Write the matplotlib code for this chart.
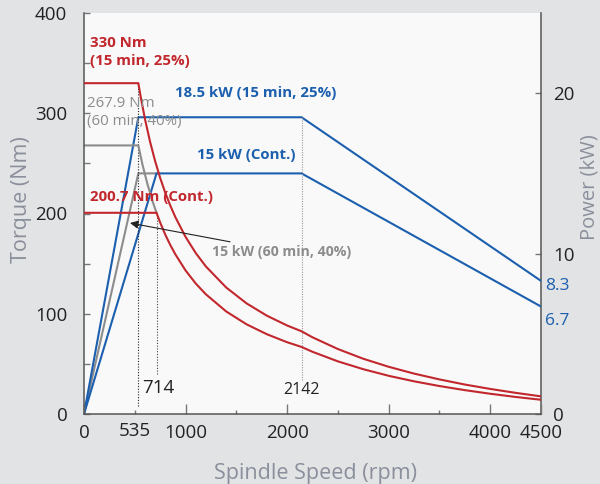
import matplotlib
matplotlib.use("Agg")
import matplotlib.pyplot as plt
from matplotlib.ticker import FixedLocator, FixedFormatter

plt.rcParams['font.family'] = ['Open Sans', 'DejaVu Sans']

# ---------------- data ----------------
# Power curves (kW)
speed_pmax = [0, 535, 2142, 4500]
power_pmax = [0, 18.5, 18.5, 8.3]          # 18.5 kW (15 min, 25%)
speed_pcont = [0, 714, 2142, 4500]
power_pcont = [0, 15, 15, 6.7]             # 15 kW (Cont.)
speed_ps6 = [0, 535, 714]
power_ps6 = [0, 15, 15]                    # 15 kW (60 min, 40%)

# Torque curves (Nm)
speed_tmax = [0, 535, 560, 600, 650, 700, 750, 800, 850, 900, 1000, 1100, 1200,
              1400, 1600, 1800, 2000, 2142, 2250, 2500, 2750, 3000, 3250, 3500,
              3750, 4000, 4250, 4500]
torque_tmax = [330, 330, 315.5, 294.4, 271.8, 252.4, 235.5, 220.8, 207.8, 196.3,
               176.7, 160.6, 147.2, 126.2, 110.4, 98.1, 88.3, 82.5, 76.5, 64.8,
               55.1, 47.1, 40.3, 34.5, 29.4, 25.0, 21.1, 17.6]
speed_tcont = [0, 714, 750, 800, 850, 900, 1000, 1100, 1200, 1400, 1600, 1800,
               2000, 2142, 2250, 2500, 2750, 3000, 3250, 3500, 3750, 4000, 4250, 4500]
torque_tcont = [200.7, 200.7, 191.0, 179.0, 168.5, 159.2, 143.2, 130.2, 119.4,
                102.3, 89.5, 79.6, 71.6, 66.9, 62.05, 52.5, 44.7, 38.1, 32.6,
                27.9, 23.8, 20.2, 17.0, 14.2]
speed_ts6 = [0, 535, 575, 625, 675, 714]
torque_ts6 = [267.9, 267.9, 249.1, 229.2, 212.2, 200.7]

x_major = [0, 1000, 2000, 3000, 4000, 4500]
x_major_labels = ['0', '1000', '2000', '3000', '4000', '4500']
x_minor = [500, 1500, 2500, 3500]
x_minor_labels = ['535', '', '', '']
t_major = [0, 100, 200, 300, 400]
t_minor = [50, 150, 250, 350]
p_major = [0, 10, 20]

# ---------------- style ----------------
RED = '#c1272d'
BLUE = '#1b5fae'
GRAY = '#8c8c8c'
LABEL = '#8a8f9b'
TICKTXT = '#222222'
SPINE = '#555555'
FIGBG = '#e2e3e5'
AXBG = '#f9f9f9'

fig = plt.figure(figsize=(6, 4.84), dpi=100, facecolor=FIGBG)
rect = [84/600, 1-414/484, (541-84)/600, (414-13)/484]
bgax = fig.add_axes(rect, zorder=-1)
bgax.set_facecolor(AXBG)
bgax.set_xticks([]); bgax.set_yticks([])
for s in bgax.spines.values():
    s.set_visible(False)

ax2 = fig.add_axes(rect, zorder=1)
ax = fig.add_axes(rect, zorder=2, sharex=ax2)
ax.patch.set_visible(False)
ax2.patch.set_visible(False)
ax2.yaxis.tick_right()
ax2.yaxis.set_label_position('right')

ax.set_xlim(0, 4500)
ax.set_ylim(0, 400)
ax2.set_ylim(0, 25)

lw = 1.5
# power lines
ax2.plot(speed_ps6, power_ps6, color=GRAY, lw=lw, zorder=2)
ax2.plot(speed_pcont, power_pcont, color=BLUE, lw=lw, zorder=3)
ax2.plot(speed_pmax, power_pmax, color=BLUE, lw=lw, zorder=3)

# torque lines
ax.plot(speed_ts6, torque_ts6, color=GRAY, lw=lw, zorder=2)
ax.plot(speed_tcont, torque_tcont, color=RED, lw=lw, zorder=3)
ax.plot(speed_tmax, torque_tmax, color=RED, lw=lw, zorder=3)

# dotted reference lines
ax.plot([535, 535], [8, 330], color='#222222', lw=0.8, ls=(0, (1, 1.5)), zorder=1)
ax.plot([714, 714], [40, 200.7], color='#444444', lw=0.8, ls=(0, (1, 1.5)), zorder=1)
ax.plot([2142, 2142], [34, 18.5 * 400 / 25], color='#999999', lw=0.8, ls=(0, (1, 1.2)), zorder=1)

# annotations
ax.text(59, 361, '330 Nm\n(15 min, 25%)', color=RED, fontsize=10.8, fontweight='bold',
        ha='left', va='center', linespacing=1.3)
ax.text(30, 301, '267.9 Nm\n(60 min, 40%)', color=GRAY, fontsize=10.8,
        ha='left', va='center', linespacing=1.3)
ax.text(896, 320, '18.5 kW (15 min, 25%)', color=BLUE, fontsize=10.8, fontweight='bold',
        ha='left', va='center')
ax.text(1113, 258, '15 kW (Cont.)', color=BLUE, fontsize=10.8, fontweight='bold',
        ha='left', va='center')
ax.text(59, 216.5, '200.7 Nm (Cont.)', color=RED, fontsize=10.8, fontweight='bold',
        ha='left', va='center')
ax.annotate('15 kW (60 min, 40%)', xy=(453, 190.5), xytext=(1265, 162),
            color=GRAY, fontsize=10.2, fontweight='bold', ha='left', va='center',
            arrowprops=dict(arrowstyle='-|>', color='#222222', lw=0.8,
                            mutation_scale=12, shrinkA=0, shrinkB=0))
ax.text(734, 26, '714', color=TICKTXT, fontsize=13.5, ha='center', va='center')
ax.text(2142, 24, '2142', color=TICKTXT, fontsize=11.5, ha='center', va='center')

ax2.text(4540, 8.3 - 0.35, '8.3', color=BLUE, fontsize=12.5, ha='left', va='center',
         clip_on=False)
ax2.text(4540, 6.7 - 0.9, '6.7', color=BLUE, fontsize=12.5, ha='left', va='center',
         clip_on=False)

# ticks
ax.xaxis.set_major_locator(FixedLocator(x_major))
ax.xaxis.set_major_formatter(FixedFormatter(x_major_labels))
ax.xaxis.set_minor_locator(FixedLocator(x_minor))
ax.xaxis.set_minor_formatter(FixedFormatter(x_minor_labels))
ax.yaxis.set_major_locator(FixedLocator(t_major))
ax.yaxis.set_minor_locator(FixedLocator(t_minor))
ax2.yaxis.set_major_locator(FixedLocator(p_major))
ax2.yaxis.set_minor_locator(FixedLocator([]))
ax2.tick_params(axis='x', which='both', bottom=False, labelbottom=False)

ax.tick_params(axis='x', which='major', direction='in', length=7, width=1,
               color='#777777', labelsize=13.5, labelcolor=TICKTXT, pad=7)
ax.tick_params(axis='x', which='minor', direction='in', length=3, width=1,
               color='#777777', labelsize=13.5, labelcolor=TICKTXT, pad=6)
ax.tick_params(axis='y', which='both', direction='in', length=4, width=1,
               color='#777777', labelsize=13.5, labelcolor=TICKTXT, pad=12)
ax2.tick_params(axis='y', which='both', direction='in', length=4, width=1,
                color='#777777', labelsize=13.5, labelcolor=TICKTXT, pad=9,
                left=False, labelleft=False, right=True, labelright=True)
ax.tick_params(axis='y', which='minor', labelleft=False)

ax.spines['top'].set_visible(False)
ax.spines['right'].set_visible(False)
for k in ('left', 'bottom'):
    ax.spines[k].set_color(SPINE)
    ax.spines[k].set_linewidth(1.1)
for k in ('top', 'left', 'bottom'):
    ax2.spines[k].set_visible(False)
ax2.spines['right'].set_color(SPINE)
ax2.spines['right'].set_linewidth(1.1)

fig.text(22/600, 1-200/484, 'Torque (Nm)', rotation=90, color=LABEL, fontsize=15.5,
         ha='center', va='center')
fig.text(590/600, 1-187/484, 'Power (kW)', rotation=90, color=LABEL, fontsize=14.5,
         ha='center', va='center')
fig.text(315/600, 1-473/484, 'Spindle Speed (rpm)', color=LABEL, fontsize=15.5,
         ha='center', va='center')

fig.savefig('out.png', dpi=100, facecolor=FIGBG)
